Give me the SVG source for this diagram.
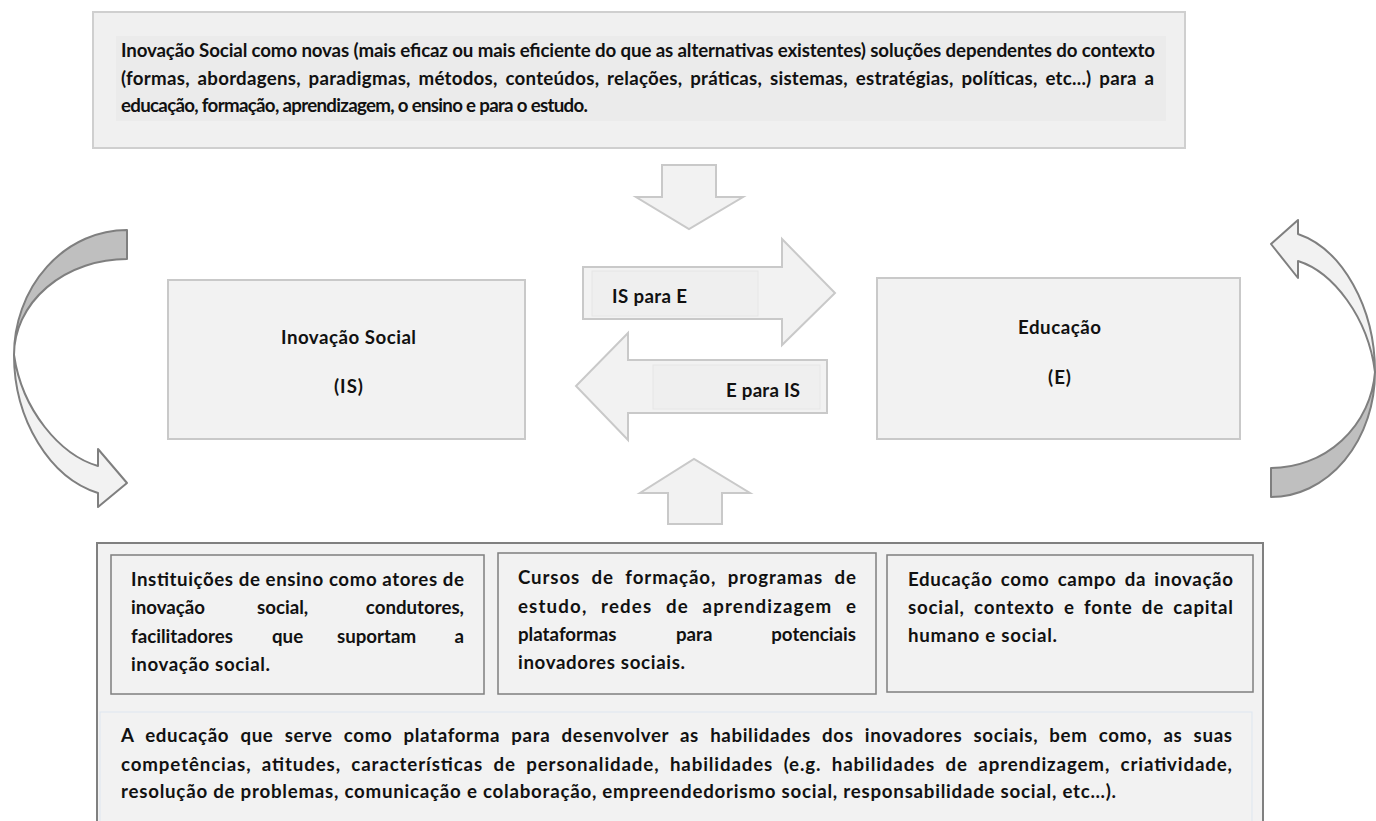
<svg xmlns="http://www.w3.org/2000/svg" width="1376" height="821" viewBox="0 0 1376 821">
<style>
text{font-family:Lato,"Liberation Sans",sans-serif;font-weight:bold;font-size:18.7px;fill:#111}
.box{fill:#f2f2f2;stroke:#c9c9c9;stroke-width:2}
.inbox{fill:#f2f2f2;stroke:#7f7f7f;stroke-width:1.5}
.blk{fill:#f2f2f2;stroke:#c9c9c9;stroke-width:2}
.band{fill:#efefef;stroke:#e6e6e6;stroke-width:1}
.cl{fill:#f2f2f2;stroke:#7f7f7f;stroke-width:2;stroke-linejoin:round}
.cd{fill:#bfbfbf;stroke:#7f7f7f;stroke-width:2;stroke-linejoin:round}
</style>
<rect width="1376" height="821" fill="#ffffff"/>

<g id="top-box">
<rect x="93" y="12" width="1092" height="136" fill="#f0f0f0" stroke="#cfcfcf" stroke-width="2"/>
<rect x="116" y="36" width="1050" height="85" fill="#ebebeb"/>
<text x="121" y="57" textLength="1034" lengthAdjust="spacing">Inovação Social como novas (mais eficaz ou mais eficiente do que as alternativas existentes) soluções dependentes do contexto</text>
<text x="121" y="85" textLength="1033" lengthAdjust="spacing" word-spacing="3">(formas, abordagens, paradigmas, métodos, conteúdos, relações, práticas, sistemas, estratégias, políticas, etc...) para a</text>
<text x="121" y="112" textLength="467" lengthAdjust="spacing">educação, formação, aprendizagem, o ensino e para o estudo.</text>
</g>

<g id="node-is">
<rect class="box" x="168" y="280" width="357" height="159"/>
<text x="281" y="344" textLength="135" lengthAdjust="spacing">Inovação Social</text>
<text x="334" y="393" textLength="29" lengthAdjust="spacing">(IS)</text>
</g>

<g id="node-e">
<rect class="box" x="877" y="278" width="363" height="161"/>
<text x="1018" y="334" textLength="83" lengthAdjust="spacing">Educação</text>
<text x="1048" y="384" textLength="23" lengthAdjust="spacing">(E)</text>
</g>

<g id="connectors">
<path class="blk" d="M662,165 L716,165 L716,197 L743,197 L689,229 L636,197 L662,197 Z"/>
<path class="blk" d="M668,524 L668,493 L640,493 L694,459 L750,493 L722,493 L722,524 Z"/>
<g id="arrow-is-e">
<path class="blk" d="M583,267 L782,267 L782,239 L835,293 L782,345 L782,319 L583,319 Z"/>
<rect class="band" x="592" y="271" width="166" height="45"/>
<text x="612" y="303" textLength="75" lengthAdjust="spacing">IS para E</text>
</g>
<g id="arrow-e-is">
<path class="blk" d="M827,360 L628,360 L628,333 L576,386 L628,440 L628,413 L827,413 Z"/>
<rect class="band" x="653" y="365" width="167" height="44"/>
<text x="726" y="397" textLength="74" lengthAdjust="spacing">E para IS</text>
</g>
<g id="curve-left">
<path class="cd" d="M127,230 A113,125 0 0 0 14,355 A113,96 0 0 1 127,259 Z"/>
<path class="cl" d="M14,355 C22,410 60,455 98,466 L98,449 L127,483 L98,507 L98,493 C50,478 14,420 14,355 Z"/>
</g>
<g id="curve-right">
<path class="cd" d="M1271,497 A104,125 0 0 0 1375,372 A104,104 0 0 1 1271,468 Z"/>
<path class="cl" d="M1375,372 C1368,317 1333,272 1298,261 L1298,278 L1271,244 L1298,220 L1298,234 C1342,249 1375,307 1375,372 Z"/>
</g>
</g>

<g id="bottom-box">
<rect x="97" y="543" width="1166" height="300" fill="#f2f2f2" stroke="#808080" stroke-width="2"/>
<g id="box-instituicoes">
<rect class="inbox" x="111" y="555" width="373" height="139"/>
<text x="131" y="586" textLength="333" lengthAdjust="spacing">Instituições de ensino como atores de</text>
<text x="131" y="614">inovação</text>
<text x="257" y="614">social,</text>
<text x="464" y="614" text-anchor="end">condutores,</text>
<text x="131" y="643">facilitadores</text>
<text x="272" y="643">que</text>
<text x="337" y="643">suportam</text>
<text x="464" y="643" text-anchor="end">a</text>
<text x="131" y="671" textLength="139" lengthAdjust="spacing">inovação social.</text>
</g>
<g id="box-cursos">
<rect class="inbox" x="498" y="553" width="378" height="141"/>
<text x="518" y="584" textLength="338" lengthAdjust="spacing" word-spacing="6">Cursos de formação, programas de</text>
<text x="518" y="613" textLength="338" lengthAdjust="spacing" word-spacing="8">estudo, redes de aprendizagem e</text>
<text x="518" y="641">plataformas</text>
<text x="676" y="641">para</text>
<text x="856" y="641" text-anchor="end">potenciais</text>
<text x="518" y="669" textLength="167" lengthAdjust="spacing">inovadores sociais.</text>
</g>
<g id="box-educacao">
<rect class="inbox" x="887" y="555" width="366" height="137"/>
<text x="908" y="586" textLength="325" lengthAdjust="spacing" word-spacing="3">Educação como campo da inovação</text>
<text x="908" y="614" textLength="325" lengthAdjust="spacing" word-spacing="4">social, contexto e fonte de capital</text>
<text x="908" y="642" textLength="149" lengthAdjust="spacing">humano e social.</text>
</g>
<g id="box-plataforma">
<rect x="100" y="712" width="1152" height="130" fill="#f2f2f2" stroke="#dde6ef" stroke-width="1"/>
<text x="121" y="742" textLength="1111" lengthAdjust="spacing" word-spacing="6">A educação que serve como plataforma para desenvolver as habilidades dos inovadores sociais, bem como, as suas</text>
<text x="121" y="771" textLength="1111" lengthAdjust="spacing" word-spacing="5">competências, atitudes, características de personalidade, habilidades (e.g. habilidades de aprendizagem, criatividade,</text>
<text x="121" y="798" textLength="995" lengthAdjust="spacing">resolução de problemas, comunicação e colaboração, empreendedorismo social, responsabilidade social, etc…).</text>
</g>
</g>
</svg>
